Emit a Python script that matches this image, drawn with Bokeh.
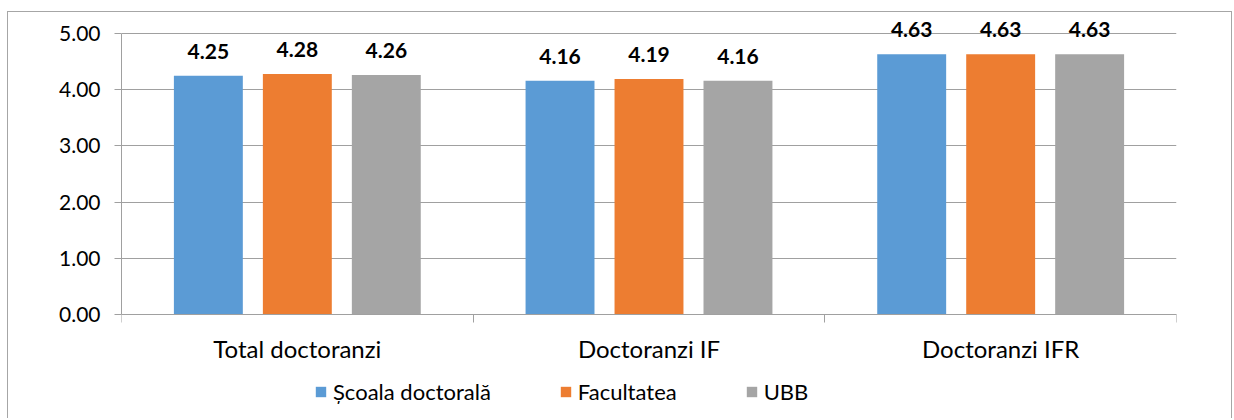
from bokeh.plotting import figure
from bokeh.models import (ColumnDataSource, Range1d, FixedTicker,
                          NumeralTickFormatter, LabelSet, Legend, LegendItem)
from bokeh.core.properties import value
from bokeh.transform import dodge
from bokeh.embed import file_html
from bokeh.resources import INLINE

categories = ["Total doctoranzi", "Doctoranzi IF", "Doctoranzi IFR"]
series_names = ["Școala doctorală", "Facultatea", "UBB"]
scoala = [4.25, 4.16, 4.63]
facultatea = [4.28, 4.19, 4.63]
ubb = [4.26, 4.16, 4.63]
y_ticks = [0, 1, 2, 3, 4, 5]
colors = ["#5B9BD5", "#ED7D31", "#A5A5A5"]

xc = [i + 0.5 for i in range(len(categories))]
src = ColumnDataSource(dict(
    x=xc, cat=categories,
    s0=scoala, s1=facultatea, s2=ubb,
    l0=[f"{v:.2f}" for v in scoala],
    l1=[f"{v:.2f}" for v in facultatea],
    l2=[f"{v:.2f}" for v in ubb],
))

FONT = "Lato"
p = figure(width=1225, height=407, x_range=Range1d(0, 3), y_range=Range1d(-1.868, 5.356),
           output_backend="svg", toolbar_location=None,
           min_border_left=113, min_border_right=57, min_border_top=1, min_border_bottom=0)
p.styles = {"margin-left": "7px", "margin-top": "11px",
            "border-top": "1px solid #A6A6A6", "border-left": "1px solid #A6A6A6",
            "border-right": "1px solid #A6A6A6"}
p.outline_line_color = None
p.background_fill_color = "white"
p.border_fill_color = "white"

offsets = [-0.253, 0.0, 0.253]
keys = ["s0", "s1", "s2"]
lkeys = ["l0", "l1", "l2"]
renderers = []
for k, lk, off, c in zip(keys, lkeys, offsets, colors):
    r = p.vbar(x=dodge("x", off, range=p.x_range), top=k, width=0.196, bottom=0,
               source=src, fill_color=c, line_color=None)
    renderers.append(r)
    labels = LabelSet(x=dodge("x", off, range=p.x_range), y=k, text=lk, source=src,
                      text_align="center", text_baseline="alphabetic", y_offset=17,
                      text_font=value(FONT), text_font_size="21px", text_font_style="bold",
                      text_color="#000000")
    p.add_layout(labels)

# y axis
p.yaxis.ticker = FixedTicker(ticks=y_ticks)
p.yaxis.formatter = NumeralTickFormatter(format="0.00")
p.yaxis.bounds = (0, 5)
p.yaxis.major_label_text_font = FONT
p.yaxis.major_label_text_font_size = "21px"
p.yaxis.major_label_text_color = "#000000"
p.yaxis.major_tick_out = 7
p.yaxis.major_tick_in = 0
p.yaxis.minor_tick_line_color = None
p.yaxis.axis_line_color = "#A0A0A0"
p.yaxis.major_tick_line_color = "#A0A0A0"
p.yaxis.major_label_standoff = 14

# x axis (drawn at y = 0)
p.xaxis.fixed_location = 0
p.xaxis.ticker = FixedTicker(ticks=xc, minor_ticks=[0, 1, 2, 3])
p.xaxis.major_label_overrides = {x: c for x, c in zip(xc, categories)}
p.xaxis.major_tick_out = 0
p.xaxis.major_tick_in = 0
p.xaxis.minor_tick_out = 8
p.xaxis.minor_tick_in = 0
p.xaxis.minor_tick_line_color = "#A0A0A0"
p.xaxis.axis_line_color = "#A0A0A0"
p.xaxis.major_label_text_font = FONT
p.xaxis.major_label_text_font_size = "24px"
p.xaxis.major_label_text_color = "#000000"
p.xaxis.major_label_standoff = 11

p.xgrid.grid_line_color = None
p.ygrid.grid_line_color = "#A0A0A0"
p.ygrid.bounds = (0, 5)

legend = Legend(items=[LegendItem(label=n, renderers=[r]) for n, r in zip(series_names, renderers)],
                orientation="horizontal", location=(193, 14),
                glyph_width=13, glyph_height=13, label_standoff=6, spacing=68,
                padding=0, margin=0, border_line_color=None, background_fill_alpha=0,
                label_text_font=FONT, label_text_font_size="22px", label_text_color="#000000")
p.add_layout(legend, "center")

open("out.html", "w").write(file_html(p, INLINE))
